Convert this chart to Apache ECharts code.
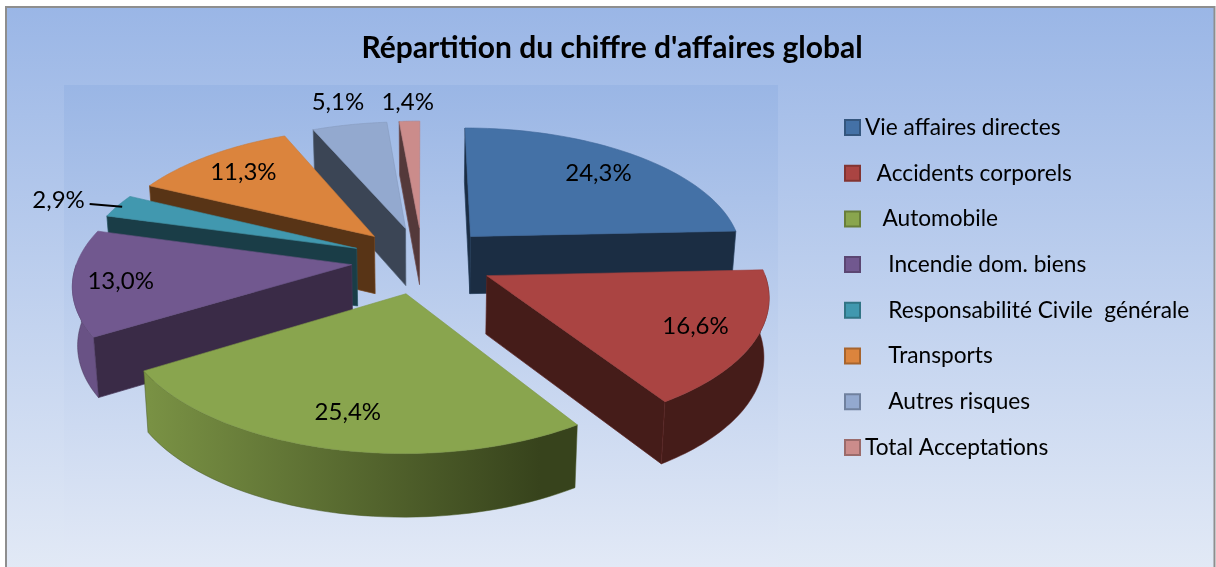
<!DOCTYPE html>
<html>
<head>
<meta charset="utf-8">
<style>html,body{margin:0;padding:0;background:#fff}#c{width:1216px;height:567px}</style>
<script src="https://cdn.jsdelivr.net/npm/echarts@6/dist/echarts.min.js"></script>
</head>
<body>
<div id="c"></div>
<script>
const titleText = "Répartition du chiffre d'affaires global";
const categories = ["Vie affaires directes", "  Accidents corporels", "   Automobile", "    Incendie dom. biens", "    Responsabilité Civile  générale", "    Transports", "    Autres risques", "Total Acceptations"];
const shares = [24.3, 16.6, 25.4, 13.0, 2.9, 11.3, 5.1, 1.4];
const topColors = ["#4471A6", "#AA4442", "#89A54E", "#71588F", "#4198AF", "#DB843D", "#93A9CF", "#CB8C8B"];
const wallColors = ["#1B2D43", "#451C19", "#37431C", "#3A2B47", "#1A3D47", "#583416", "#3B4555", "#54393A"];
const labelRadius = [0.76, 0.79, 0.79, 0.83, 1.24, 0.78, 1.25, 1.21];
const labelTurn = [0, 0, 0, -1, -1.7, 0, 0.1, 0];
const leaderSlices = [4];

// 3D projection of the exploded pie
const view = { cx: 422.5, cy: 260, rx: 274, ry: 128.7, persp: 0.133, depth: 58, depthPersp: 0.07, baseShrink: 0.985, explode: 0.26 };
const total = shares.reduce((a, b) => a + b, 0);
const startAngles = [];
shares.reduce((acc, v, i) => { startAngles[i] = acc; return acc + v / total * Math.PI * 2; }, 0);

function project(U, V) {
  const s = 1 / (1 - view.persp * V);
  return [view.cx + view.rx * U * s, view.cy + view.ry * V * s];
}
function lowered(U, V) {
  const p = project(U, V);
  return [view.cx + (p[0] - view.cx) * view.baseShrink, p[1] + view.depth / (1 - view.depthPersp * V)];
}
function mix(a, b, t) {
  const pa = parseInt(a.slice(1), 16), pb = parseInt(b.slice(1), 16);
  const ch = sh => Math.round(((pa >> sh) & 255) * (1 - t) + ((pb >> sh) & 255) * t);
  return "rgb(" + ch(16) + "," + ch(8) + "," + ch(0) + ")";
}
const percentText = v => v.toFixed(1).replace(".", ",") + "%";

function sliceGeometry(i) {
  const a0 = startAngles[i], a1 = a0 + shares[i] / total * Math.PI * 2, mid = (a0 + a1) / 2;
  const ox = view.explode * Math.sin(mid), oy = -view.explode * Math.cos(mid);
  return { a0, a1, mid, ox, oy };
}
function rimPoint(g, a) { return [g.ox + Math.sin(a), g.oy - Math.cos(a)]; }
function arc(g, from, to) {
  const pts = [], steps = 48;
  for (let k = 0; k <= steps; k++) pts.push(rimPoint(g, from + (to - from) * k / steps));
  return pts;
}
const depthOrder = shares.map((_, i) => ({ i, v: sliceGeometry(i).oy })).sort((a, b) => a.v - b.v).map(o => o.i);

function renderSlice(i, api) {
  const g = sliceGeometry(i);
  const top = topColors[i], wall = wallColors[i];
  const edge = mix(wall, top, 0.22);
  const apex = [g.ox, g.oy];
  const children = [];
  const quad = (p, q) => [project(p[0], p[1]), project(q[0], q[1]), lowered(q[0], q[1]), lowered(p[0], p[1])];
  // only the walls that face the viewer are drawn
  if (-Math.sin(g.a0) >= 0) {
    children.push({ type: "polygon", shape: { points: quad(apex, rimPoint(g, g.a0)) }, style: { fill: wall, stroke: edge, lineWidth: 0.7 } });
  }
  if (Math.sin(g.a1) > 0) {
    children.push({ type: "polygon", shape: { points: quad(apex, rimPoint(g, g.a1)) }, style: { fill: wall, stroke: edge, lineWidth: 0.7 } });
  }
  const f0 = Math.max(g.a0, Math.PI / 2), f1 = Math.min(g.a1, Math.PI * 1.5);
  if (f1 > f0) {
    const front = arc(g, f0, f1);
    children.push({
      type: "polygon",
      shape: { points: front.map(p => project(p[0], p[1])).concat(front.slice().reverse().map(p => lowered(p[0], p[1]))) },
      style: {
        fill: { type: "linear", x: 120, y: 0, x2: 540, y2: 0, global: true, colorStops: [{ offset: 0, color: mix(top, wall, 0.14) }, { offset: 1, color: wall }] },
        stroke: edge, lineWidth: 0.5
      }
    });
  }
  children.push({
    type: "polygon",
    shape: { points: [project(apex[0], apex[1])].concat(arc(g, g.a0, g.a1).map(p => project(p[0], p[1]))) },
    style: { fill: top, stroke: mix(top, wall, 0.14), lineWidth: 0.6 }
  });
  const polar = (r, turn) => {
    const a = g.mid + (turn || 0) * Math.PI / 180;
    return project(g.ox + r * Math.sin(a), g.oy - r * Math.cos(a));
  };
  if (leaderSlices.indexOf(i) >= 0) {
    const a = polar(0.98), b = polar(1.11, -1.2);
    children.push({ type: "line", shape: { x1: a[0], y1: a[1], x2: b[0], y2: b[1] }, style: { stroke: "#000", lineWidth: 2 } });
  }
  const lp = polar(labelRadius[i], labelTurn[i]);
  children.push({
    type: "text", x: lp[0], y: lp[1],
    style: { text: percentText(api.value(0)), fill: "#000", font: "24px Lato", textAlign: "center", textVerticalAlign: "middle" }
  });
  return { type: "group", children };
}

const option = {
  animation: false,
  backgroundColor: "#fff",
  title: {
    text: titleText, left: 607, top: 28, textAlign: "center",
    textStyle: { fontFamily: "Lato", fontWeight: "bold", fontSize: 30, color: "#000" }
  },
  legend: {
    orient: "vertical", left: 844, top: 116, padding: 0, icon: "rect", itemWidth: 15, itemHeight: 15, itemGap: 22.7,
    selectedMode: false, data: categories,
    textStyle: { fontFamily: "Lato", fontSize: 22.7, color: "#000" }
  },
  graphic: [
    {
      type: "rect", z: -10, silent: true, shape: { x: 6, y: 7, width: 1208.5, height: 570 },
      style: {
        fill: { type: "linear", x: 0, y: 0, x2: 0, y2: 1, colorStops: [{ offset: 0, color: "#9AB6E6" }, { offset: 1, color: "#E3EAF6" }] },
        stroke: "#8E8E8E", lineWidth: 2
      }
    },
    {
      type: "rect", z: -9, silent: true, shape: { x: 64, y: 85, width: 714, height: 482 },
      style: { fill: { type: "linear", x: 0, y: 0, x2: 0, y2: 1, colorStops: [{ offset: 0, color: "#9AB6E5" }, { offset: 1, color: "#E2E9F6" }] } }
    }
  ],
  series: categories.map((name, i) => ({
    type: "custom", name, coordinateSystem: "none",
    z: 2 + depthOrder.indexOf(i),
    data: [[shares[i]]],
    itemStyle: { color: topColors[i], borderColor: mix(topColors[i], wallColors[i], 0.4), borderWidth: 2 },
    renderItem: (params, api) => renderSlice(i, api)
  }))
};
echarts.init(document.getElementById("c"), null, { renderer: "canvas" }).setOption(option);
</script>
</body>
</html>
